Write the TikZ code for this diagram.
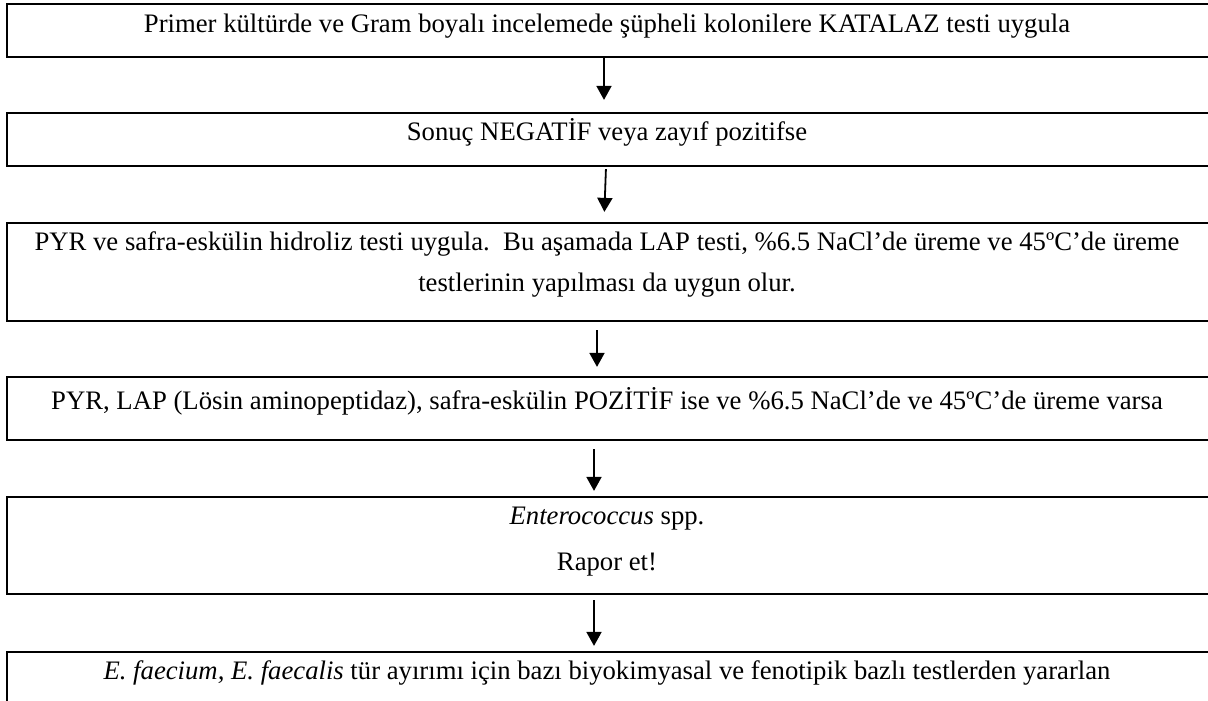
\documentclass[tikz,border=0pt]{standalone}
\usepackage{fontspec}
\setmainfont{Liberation Serif}
\usetikzlibrary{arrows.meta}
\begin{document}
\begin{tikzpicture}[x=1pt,y=-1pt,
  box/.style={draw=black,line width=2.2pt,minimum width=1212pt,inner sep=0pt,rectangle},
  txt/.style={anchor=base,inner sep=0pt,font=\fontsize{26.7}{32}\selectfont},
  arr/.style={line width=1.8pt,-{Triangle[width=15pt,length=14pt]}}]
\useasboundingbox (0,0) rectangle (1208,701);
% boxes
\node[box,minimum height=53pt] (b1) at (613,30.5) {};
\node[box,minimum height=53pt] (b2) at (613,139.5) {};
\node[box,minimum height=98pt] (b3) at (613,272) {};
\node[box,minimum height=63pt] (b4) at (613,408.5) {};
\node[box,minimum height=97pt] (b5) at (613,545.5) {};
\node[box,minimum height=70pt] (b6) at (613,687) {};
% texts
\node[txt] (t1) at (607,33) {Primer kültürde ve Gram boyalı incelemede şüpheli kolonilere KATALAZ testi uygula};
\node[txt] (t2) at (607,140) {Sonuç NEGATİF veya zayıf pozitifse};
\node[txt] (t3a) at (607,250) {PYR ve safra-eskülin hidroliz testi uygula.\ \ Bu aşamada LAP testi, \%6.5 NaCl’de üreme ve 45ºC’de üreme};
\node[txt] (t3b) at (607,291) {testlerinin yapılması da uygun olur.};
\node[txt] (t4) at (607,409) {PYR, LAP (Lösin aminopeptidaz), safra-eskülin POZİTİF ise ve \%6.5 NaCl’de ve 45ºC’de üreme varsa};
\node[txt] (t5a) at (607,524) {\textit{Enterococcus} spp.};
\node[txt] (t5b) at (607,570) {Rapor et!};
\node[txt] (t6) at (607,679) {\textit{E. faecium, E. faecalis} tür ayırımı için bazı biyokimyasal ve fenotipik bazlı testlerden yararlan};
% arrows
\draw[arr,shorten >=12pt] ([xshift=-9pt]b1.south) -- ([xshift=-9pt]b2.north);
\draw[arr,shorten <=2pt,shorten >=10pt] ([xshift=-7pt]b2.south) -- ([xshift=-9pt]b3.north);
\draw[arr,shorten <=8pt,shorten >=9pt] ([xshift=-16pt]b3.south) -- ([xshift=-16pt]b4.north);
\draw[arr,shorten <=8pt,shorten >=5pt] ([xshift=-19pt]b4.south) -- ([xshift=-19pt]b5.north);
\draw[arr,shorten <=5pt,shorten >=5pt] ([xshift=-19pt]b5.south) -- ([xshift=-19pt]b6.north);
\end{tikzpicture}
\end{document}
